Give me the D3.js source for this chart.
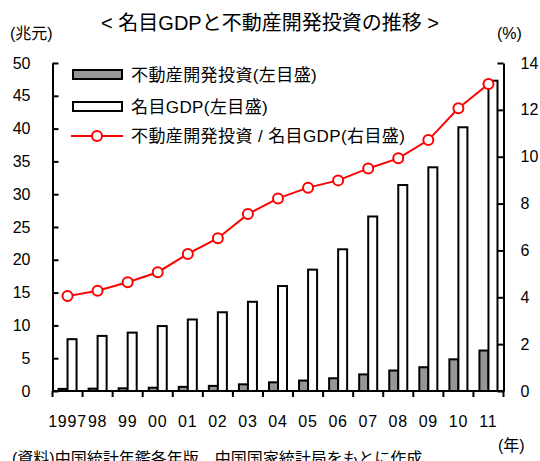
<!DOCTYPE html>
<html>
<head>
<meta charset="utf-8">
<script src="https://cdn.jsdelivr.net/npm/d3@7.9.0/dist/d3.min.js"></script>
<style>
  body { margin: 0; background: #fff; }
  svg text { font-family: "Liberation Sans", "Noto Sans CJK JP", sans-serif; fill: #000; }
</style>
</head>
<body>
<svg id="chart" width="540" height="461"></svg>
<script>
const years = ["1997", "98", "99", "00", "01", "02", "03", "04", "05", "06", "07", "08", "09", "10", "11"];
const investment = [0.32, 0.36, 0.41, 0.5, 0.63, 0.78, 1.02, 1.32, 1.59, 1.94, 2.53, 3.12, 3.62, 4.83, 6.17];
const gdp = [7.9, 8.4, 8.9, 9.9, 10.9, 12.0, 13.6, 16.0, 18.5, 21.6, 26.6, 31.4, 34.1, 40.2, 47.3];
const ratio = [4.05, 4.28, 4.64, 5.07, 5.85, 6.52, 7.55, 8.22, 8.68, 8.99, 9.5, 9.93, 10.71, 12.07, 13.1];
const leftTicks = [0, 5, 10, 15, 20, 25, 30, 35, 40, 45, 50];
const rightTicks = [0, 2, 4, 6, 8, 10, 12, 14];

const svg = d3.select("#chart");
const x0 = 52.5, x1 = 503.5, yTop = 63, yBot = 391;

const x = d3.scaleBand().domain(years).range([x0, x1]).padding(0);
const inner = d3.scaleBand().domain(["inv", "gdp"]).range([0, x.bandwidth()])
  .paddingInner(0).paddingOuter(0.667);
const yL = d3.scaleLinear().domain([0, 50]).range([yBot, yTop]);
const yR = d3.scaleLinear().domain([0, 14]).range([yBot, yTop]);

// title and unit labels
svg.append("text").attr("x", 270).attr("y", 30).attr("text-anchor", "middle")
  .attr("font-size", 20).text("< 名目GDPと不動産開発投資の推移 >");
svg.append("text").attr("x", 10).attr("y", 39).attr("font-size", 16).text("(兆元)");
svg.append("text").attr("x", 497).attr("y", 39).attr("font-size", 16).text("(%)");
svg.append("text").attr("x", 498).attr("y", 451).attr("font-size", 16).text("(年)");
svg.append("text").attr("x", 12).attr("y", 464).attr("font-size", 16)
  .text("(資料)中国統計年鑑各年版、中国国家統計局をもとに作成");

// bars
const g = svg.append("g");
years.forEach((yr, i) => {
  g.append("rect")
    .attr("x", x(yr) + inner("inv"))
    .attr("y", yL(investment[i]))
    .attr("width", inner.bandwidth())
    .attr("height", yBot - yL(investment[i]))
    .attr("fill", "#969696").attr("stroke", "#000").attr("stroke-width", 2);
  g.append("rect")
    .attr("x", x(yr) + inner("gdp"))
    .attr("y", yL(gdp[i]))
    .attr("width", inner.bandwidth())
    .attr("height", yBot - yL(gdp[i]))
    .attr("fill", "#fff").attr("stroke", "#000").attr("stroke-width", 2);
});

// axes
const axL = svg.append("g").attr("transform", `translate(${x0},0)`)
  .call(d3.axisLeft(yL).tickValues(leftTicks).tickSize(-6).tickSizeOuter(0).tickPadding(22));
const axR = svg.append("g").attr("transform", `translate(${x1},0)`)
  .call(d3.axisRight(yR).tickValues(rightTicks).tickSize(-6).tickSizeOuter(0).tickPadding(17));
[axL, axR].forEach((ax) => {
  ax.selectAll("path, line").attr("stroke", "#000").attr("stroke-width", 2);
  ax.selectAll("text").attr("font-size", 16).attr("font-family", null).attr("fill", "#000");
});
axR.selectAll("text").attr("text-anchor", "start");

svg.append("line").attr("x1", x0).attr("x2", x1).attr("y1", yBot).attr("y2", yBot)
  .attr("stroke", "#000").attr("stroke-width", 2);
const edges = years.map((yr) => x(yr)).concat([x1]);
svg.selectAll(".xtick").data(edges).join("line").attr("class", "xtick")
  .attr("x1", (d) => d).attr("x2", (d) => d).attr("y1", yBot).attr("y2", yBot + 6)
  .attr("stroke", "#000").attr("stroke-width", 2);
svg.selectAll(".xlab").data(years).join("text").attr("class", "xlab")
  .attr("x", (d) => x(d) + x.bandwidth() / 2).attr("y", 427)
  .attr("text-anchor", "middle").attr("font-size", 16).attr("letter-spacing", 0.8)
  .text((d) => d);

// ratio line
const cx = (i) => x(years[i]) + x.bandwidth() / 2;
const line = d3.line().x((d, i) => cx(i)).y((d) => yR(d));
svg.append("path").datum(ratio).attr("d", line)
  .attr("fill", "none").attr("stroke", "#ff0000").attr("stroke-width", 2);
svg.selectAll(".pt").data(ratio).join("circle").attr("class", "pt")
  .attr("cx", (d, i) => cx(i)).attr("cy", (d) => yR(d)).attr("r", 5)
  .attr("fill", "#fff").attr("stroke", "#ff0000").attr("stroke-width", 2);

// legend
const legendItems = [
  { label: "不動産開発投資(左目盛)", type: "bar", fill: "#969696", y: 74.5 },
  { label: "名目GDP(左目盛)", type: "bar", fill: "#fff", y: 106.5 },
  { label: "不動産開発投資 / 名目GDP(右目盛)", type: "line", y: 136 }
];
const lg = svg.append("g");
legendItems.forEach((d) => {
  if (d.type === "bar") {
    lg.append("rect").attr("x", 73).attr("y", d.y - 4.5).attr("width", 49).attr("height", 9)
      .attr("fill", d.fill).attr("stroke", "#000").attr("stroke-width", 2);
  } else {
    lg.append("line").attr("x1", 71).attr("x2", 123).attr("y1", d.y).attr("y2", d.y)
      .attr("stroke", "#ff0000").attr("stroke-width", 2);
    lg.append("circle").attr("cx", 97).attr("cy", d.y).attr("r", 5)
      .attr("fill", "#fff").attr("stroke", "#ff0000").attr("stroke-width", 2);
  }
  lg.append("text").attr("x", 131).attr("y", d.y).attr("dy", "0.36em")
    .attr("font-size", 17).attr("letter-spacing", 0.4).text(d.label);
});
</script>
</body>
</html>
